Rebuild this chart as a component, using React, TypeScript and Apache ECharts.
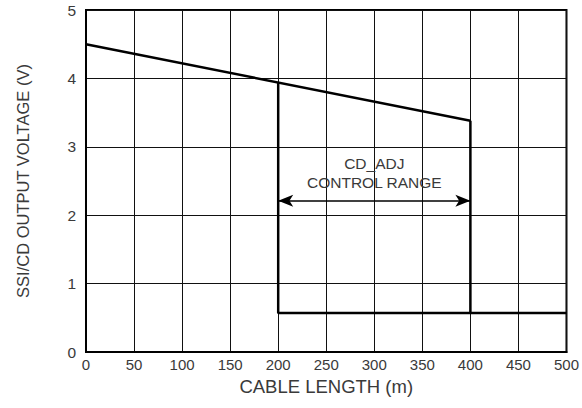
import React, { useEffect, useRef } from "react";
import * as echarts from "echarts";

const xTicks = [0, 50, 100, 150, 200, 250, 300, 350, 400, 450, 500];
const yTicks = [0, 1, 2, 3, 4, 5];

// Output voltage falling with cable length (m, V)
const slopeX = [0, 400];
const slopeY = [4.5, 3.38];
// Right boundary at 400 m and floor level
const rightX = [400, 400, 500];
const rightY = [3.38, 0.57, 0.57];
// Left boundary at 200 m
const leftX = [200, 200, 400];
const leftY = [3.94, 0.57, 0.57];
// Control range arrow
const arrowX = [200, 400];
const arrowY = 2.21;
const arrowLabel = "CD_ADJ\nCONTROL RANGE";

const FONT = "'Liberation Sans', Arial, sans-serif";
const TEXT = "#3a3a3a";

export default function App() {
  const ref = useRef<HTMLDivElement>(null);
  useEffect(() => {
    if (!ref.current) return;
    const chart = echarts.init(ref.current, null, { renderer: "svg" });
    const pairs = (xs: number[], ys: number[]) => xs.map((x, i) => [x, ys[i]]);
    const lineStyle = { color: "#000", width: 2.5 };
    chart.setOption({
      animation: false,
      textStyle: { fontFamily: FONT },
      grid: {
        left: 86,
        right: 15,
        top: 10,
        bottom: 56,
        show: true,
        borderColor: "#000",
        borderWidth: 2,
      },
      xAxis: {
        type: "value",
        min: xTicks[0],
        max: xTicks[xTicks.length - 1],
        interval: 50,
        name: "CABLE LENGTH (m)",
        nameLocation: "middle",
        nameGap: 25,
        nameTextStyle: { fontSize: 18.5, color: TEXT, fontFamily: FONT },
        axisLine: { show: true, lineStyle: { color: "#000", width: 2 } },
        axisTick: { show: false },
        axisLabel: { fontSize: 15, color: TEXT, margin: 5, fontFamily: FONT },
        splitLine: { show: true, lineStyle: { color: "#111", width: 1 } },
      },
      yAxis: {
        type: "value",
        min: yTicks[0],
        max: yTicks[yTicks.length - 1],
        interval: 1,
        name: "SSI/CD OUTPUT VOLTAGE (V)",
        nameLocation: "middle",
        nameGap: 55,
        nameRotate: 90,
        nameTextStyle: { fontSize: 16.5, color: TEXT, fontFamily: FONT },
        axisLine: { show: true, lineStyle: { color: "#000", width: 2 } },
        axisTick: { show: false },
        axisLabel: { fontSize: 15.5, color: TEXT, margin: 10, fontFamily: FONT },
        splitLine: { show: true, lineStyle: { color: "#111", width: 1 } },
      },
      series: [
        {
          type: "line",
          data: pairs(slopeX, slopeY),
          symbol: "none",
          lineStyle,
        },
        {
          type: "line",
          data: pairs(rightX, rightY),
          symbol: "none",
          lineStyle,
        },
        {
          type: "line",
          data: pairs(leftX, leftY),
          symbol: "none",
          lineStyle,
          markLine: {
            silent: true,
            symbol: ["arrow", "arrow"],
            symbolSize: [9, 15],
            lineStyle: { color: "#000", width: 1.5, type: "solid" },
            label: {
              show: true,
              position: "insideMiddleTop",
              formatter: arrowLabel,
              fontSize: 15.5,
              lineHeight: 19,
              color: TEXT,
              fontFamily: FONT,
              distance: 9,
            },
            data: [
              [
                { coord: [arrowX[0], arrowY] },
                { coord: [arrowX[1], arrowY] },
              ],
            ],
          },
        },
      ],
    });
    return () => chart.dispose();
  }, []);
  return (
    <div
      ref={ref}
      style={{ position: "absolute", left: 0, top: 0, width: 582, height: 408 }}
    />
  );
}
